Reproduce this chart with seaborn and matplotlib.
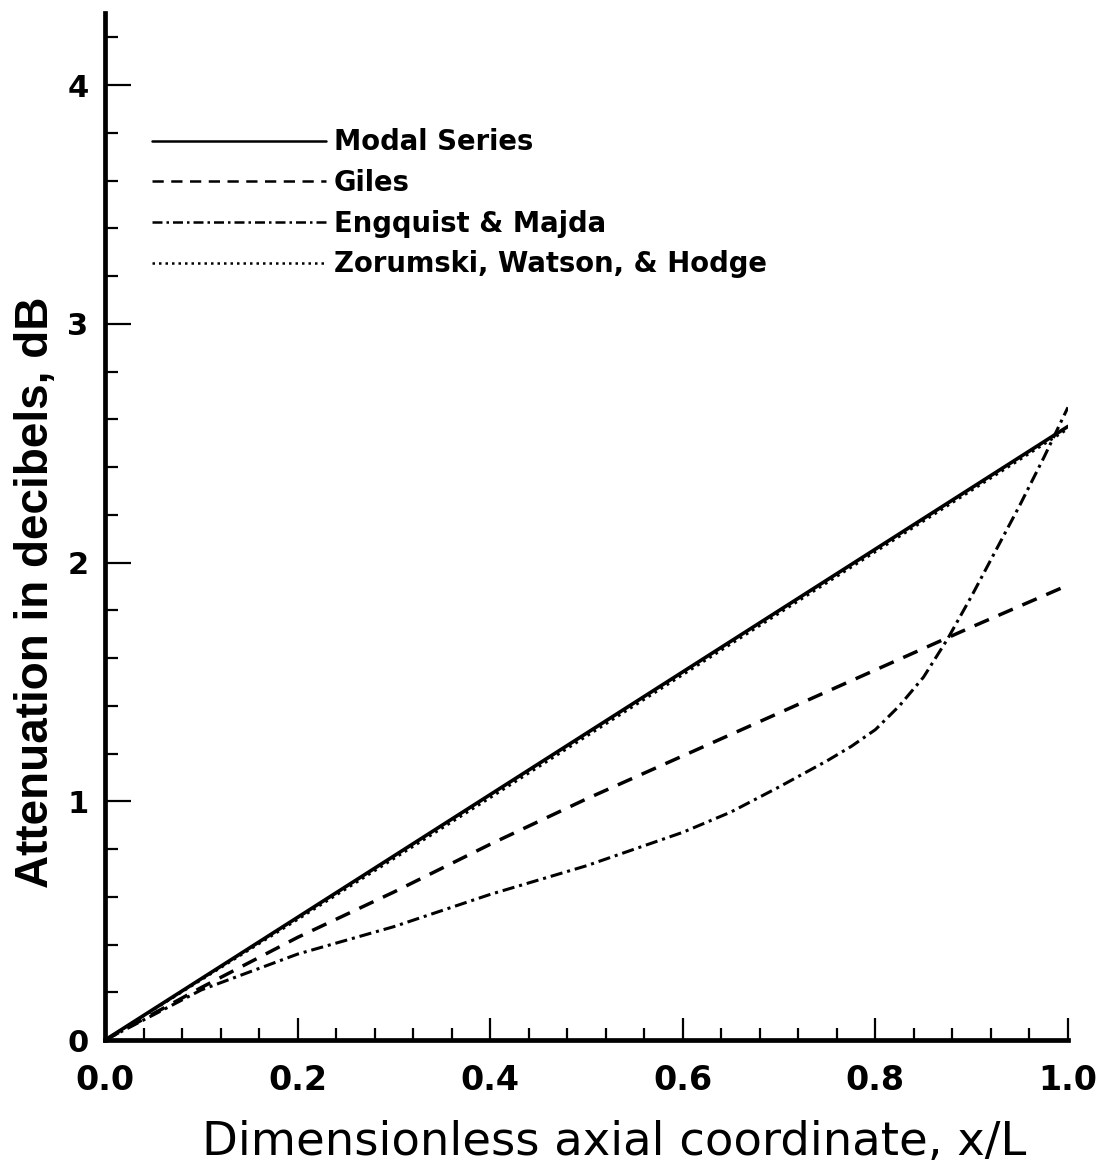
import matplotlib
matplotlib.use("Agg")
import matplotlib.pyplot as plt
import seaborn as sns
from matplotlib.ticker import MultipleLocator

# values
modal_x = [0.0, 0.2, 0.4, 0.6, 0.8, 1.0]
modal_y = [0.0, 0.514, 1.028, 1.542, 2.056, 2.57]

giles_x = [0.0, 0.1, 0.2, 0.3, 0.4, 0.5, 0.6, 0.7, 0.8, 0.9, 1.0]
giles_y = [0.0, 0.22, 0.43, 0.62, 0.82, 1.01, 1.19, 1.37, 1.55, 1.73, 1.905]

engquist_x = [0.0, 0.1, 0.2, 0.3, 0.4, 0.5, 0.55, 0.6, 0.65, 0.7, 0.75, 0.775,
              0.8, 0.825, 0.85, 0.875, 0.9, 0.925, 0.95, 0.975, 1.0]
engquist_y = [0.0, 0.21, 0.36, 0.475, 0.61, 0.73, 0.80, 0.87, 0.955, 1.06, 1.17,
              1.23, 1.30, 1.40, 1.52, 1.68, 1.86, 2.05, 2.24, 2.44, 2.65]

zwh_x = [0.0, 0.2, 0.4, 0.6, 0.8, 1.0]
zwh_y = [0.0, 0.505, 1.015, 1.53, 2.045, 2.56]

legend_labels = ["Modal Series", "Giles", "Engquist & Majda",
                 "Zorumski, Watson, & Hodge"]

sns.set_style("ticks")
plt.rcParams["font.family"] = ["DejaVu Sans"]
plt.rcParams["text.color"] = "black"
plt.rcParams["axes.labelcolor"] = "black"
plt.rcParams["xtick.color"] = "black"
plt.rcParams["ytick.color"] = "black"

fig = plt.figure(figsize=(11.06, 11.64), dpi=100)
ax = fig.add_axes([0.095, 0.1065, 0.8706, 0.882])

sns.lineplot(x=zwh_x, y=zwh_y, ax=ax, color="black", linewidth=2.0,
             linestyle=(0, (1, 1.6)), label=legend_labels[3])
sns.lineplot(x=modal_x, y=modal_y, ax=ax, color="black", linewidth=2.6,
             linestyle="-", label=legend_labels[0])
sns.lineplot(x=giles_x, y=giles_y, ax=ax, color="black", linewidth=2.5,
             linestyle=(0, (4.5, 3)), label=legend_labels[1])
sns.lineplot(x=engquist_x, y=engquist_y, ax=ax, color="black", linewidth=2.2,
             linestyle=(0, (4, 1.6, 1, 1.6)), label=legend_labels[2])

ax.set_xlim(0, 1.0)
ax.set_ylim(0, 4.3)

ax.xaxis.set_minor_locator(MultipleLocator(0.04))
ax.yaxis.set_minor_locator(MultipleLocator(0.2))
ax.set_xticks([0.0, 0.2, 0.4, 0.6, 0.8, 1.0])
ax.set_xticklabels(["0.0", "0.2", "0.4", "0.6", "0.8", "1.0"])
ax.set_yticks([0, 1, 2, 3, 4])
ax.set_yticklabels(["0", "1", "2", "3", "4"])

sns.despine(ax=ax)
for side in ["left", "bottom"]:
    ax.spines[side].set_linewidth(3.4)
    ax.spines[side].set_color("black")

ax.tick_params(axis="x", which="major", direction="in", length=16, width=1.6,
               pad=17, labelsize=24)
ax.tick_params(axis="x", which="minor", direction="in", length=9, width=1.6)
ax.tick_params(axis="y", which="major", direction="in", length=19, width=1.6,
               pad=12, labelsize=22)
ax.tick_params(axis="y", which="minor", direction="in", length=9, width=1.6)
for lab in ax.get_xticklabels() + ax.get_yticklabels():
    lab.set_fontweight("bold")

ax.set_xlabel("Dimensionless axial coordinate, x/L", fontsize=33.5)
ax.xaxis.set_label_coords(0.529, -0.078)
ax.set_ylabel("Attenuation in decibels, dB", fontsize=33,
              family=["Liberation Sans", "DejaVu Sans"], fontweight="bold")
ax.yaxis.set_label_coords(-0.049, 0.436)

handles, labels = ax.get_legend_handles_labels()
order = [labels.index(l) for l in legend_labels]
leg = ax.legend([handles[i] for i in order], [labels[i] for i in order],
                loc="upper left", bbox_to_anchor=(0.049, 0.888),
                frameon=False, fontsize=19.8, handlelength=6.3,
                handletextpad=0.3, labelspacing=0.46, borderpad=0,
                borderaxespad=0)
for line in leg.get_lines():
    line.set_linewidth(1.8)
for t in leg.get_texts():
    t.set_fontweight("bold")

fig.savefig("out.png", dpi=100)
